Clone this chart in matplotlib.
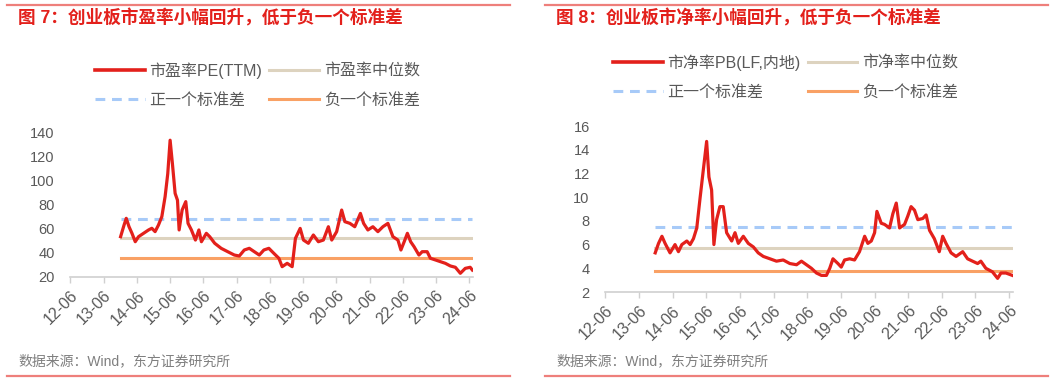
import matplotlib
matplotlib.use('Agg')
import matplotlib.pyplot as plt
from matplotlib.lines import Line2D
import pandas as pd

plt.rcParams['font.family'] = ['Liberation Sans', 'Noto Sans CJK SC']

# 创业板 PE(TTM)
pe_dates = ['2013-12-05', '2014-01-12', '2014-02-05', '2014-03-07', '2014-04-09', '2014-05-15',
            '2014-06-20', '2014-08-14', '2014-10-08', '2014-11-13', '2014-12-19', '2015-01-25',
            '2015-03-03', '2015-04-08', '2015-05-07', '2015-06-02', '2015-06-27', '2015-07-27',
            '2015-08-22', '2015-09-09', '2015-10-12', '2015-11-21', '2015-12-16', '2016-01-22',
            '2016-03-06', '2016-04-13', '2016-05-11', '2016-07-04', '2016-08-10', '2016-10-04',
            '2016-12-14', '2017-02-24', '2017-05-08', '2017-07-01', '2017-08-25', '2017-10-19',
            '2017-12-13', '2018-02-06', '2018-03-28', '2018-05-22', '2018-07-16', '2018-09-09',
            '2018-10-15', '2018-12-09', '2019-02-02', '2019-03-10', '2019-05-01', '2019-06-06',
            '2019-07-30', '2019-09-23', '2019-11-17', '2020-01-11', '2020-03-06', '2020-04-12',
            '2020-06-05', '2020-07-30', '2020-09-03', '2020-10-28', '2020-12-21', '2021-02-21',
            '2021-03-28', '2021-05-14', '2021-07-08', '2021-09-01', '2021-10-26', '2021-12-20',
            '2022-02-13', '2022-04-09', '2022-05-12', '2022-06-17', '2022-07-22', '2022-08-27',
            '2022-10-03', '2022-11-26', '2023-01-01', '2023-02-24', '2023-04-01', '2023-05-26',
            '2023-07-19', '2023-09-12', '2023-11-06', '2023-12-31', '2024-02-24', '2024-04-18',
            '2024-06-11', '2024-07-05']
pe_values = [53.6, 63.3, 68.9, 62.0, 56.4, 49.4,
             53.6, 56.4, 59.2, 60.6, 57.8, 63.3,
             70.3, 87.0, 106.0, 134.0, 114.7, 89.7,
             84.0, 59.2, 75.8, 82.8, 64.7, 59.2,
             50.8, 59.2, 49.4, 56.4, 53.6, 48.1,
             43.9, 41.1, 38.3, 37.5, 42.5, 43.9,
             41.1, 38.3, 42.5, 43.9, 39.7, 35.6,
             28.6, 31.4, 28.6, 52.2, 60.5, 50.8,
             48.1, 55.0, 49.4, 50.8, 61.9, 50.8,
             57.8, 75.8, 66.1, 64.7, 61.9, 73.0,
             64.7, 59.2, 61.9, 57.8, 61.9, 64.7,
             53.6, 50.8, 42.5, 49.4, 56.4, 49.4,
             45.3, 38.3, 41.1, 41.1, 35.6, 34.2,
             32.8, 31.4, 29.2, 28.1, 23.1, 27.2,
             28.1, 25.8]
pe_median = 52.2
pe_upper = 68.0
pe_lower = 35.6

# 创业板 PB(LF)
pb_dates = ['2013-11-24', '2013-12-30', '2014-02-05', '2014-03-11', '2014-05-04', '2014-06-27',
            '2014-08-03', '2014-09-09', '2014-11-02', '2014-12-08', '2015-01-13', '2015-02-18',
            '2015-03-24', '2015-04-30', '2015-06-05', '2015-06-30', '2015-07-29', '2015-08-23',
            '2015-09-21', '2015-10-27', '2015-12-02', '2016-01-08', '2016-03-03', '2016-04-08',
            '2016-05-14', '2016-07-07', '2016-08-30', '2016-10-24', '2016-12-16', '2017-02-09',
            '2017-04-22', '2017-07-02', '2017-09-13', '2017-11-24', '2018-02-05', '2018-03-30',
            '2018-05-23', '2018-07-16', '2018-09-09', '2018-11-02', '2018-12-26', '2019-01-31',
            '2019-03-07', '2019-04-30', '2019-06-05', '2019-07-11', '2019-09-04', '2019-10-27',
            '2019-12-20', '2020-02-14', '2020-03-20', '2020-04-26', '2020-06-01', '2020-06-26',
            '2020-08-12', '2020-09-17', '2020-11-10', '2020-12-16', '2021-01-22', '2021-02-27',
            '2021-04-22', '2021-05-27', '2021-07-02', '2021-08-08', '2021-09-13', '2021-11-06',
            '2021-12-12', '2022-01-18', '2022-03-11', '2022-05-04', '2022-06-10', '2022-07-16',
            '2022-09-09', '2022-11-02', '2023-01-13', '2023-03-07', '2023-04-30', '2023-06-24',
            '2023-07-29', '2023-09-21', '2023-12-02', '2024-01-27', '2024-03-03', '2024-04-26',
            '2024-07-05']
pb_values = [5.3, 6.1, 6.7, 6.1, 5.3, 6.0,
             5.4, 6.0, 6.3, 6.0, 6.5, 7.4,
             9.8, 12.3, 14.7, 11.7, 10.6, 6.0,
             8.1, 9.2, 9.2, 7.0, 6.3, 7.0,
             6.1, 6.7, 6.1, 5.8, 5.3, 5.0,
             4.8, 4.6, 4.7, 4.4, 4.3, 4.6,
             4.3, 4.0, 3.6, 3.4, 3.4, 4.0,
             4.8, 4.4, 4.1, 4.7, 4.8, 4.7,
             5.4, 6.7, 6.1, 6.3, 7.0, 8.8,
             7.8, 7.7, 7.4, 8.6, 9.5, 7.4,
             7.7, 8.4, 9.2, 8.9, 8.1, 8.2,
             8.5, 7.2, 6.5, 5.4, 6.7, 6.1,
             5.3, 5.0, 5.4, 4.8, 4.6, 4.4,
             4.6, 4.0, 3.7, 3.15, 3.6, 3.6,
             3.4]
pb_median = 5.7
pb_upper = 7.45
pb_lower = 3.8

tick_dates = ['2012-06-01', '2013-06-01', '2014-06-01', '2015-06-01', '2016-06-01', '2017-06-01',
              '2018-06-01', '2019-06-01', '2020-06-01', '2021-06-01', '2022-06-01', '2023-06-01',
              '2024-06-01']
tick_labels = ['12-06', '13-06', '14-06', '15-06', '16-06', '17-06', '18-06', '19-06',
               '20-06', '21-06', '22-06', '23-06', '24-06']

W, H = 1061, 382
RED = '#E3201B'
GRAY = '#595959'

fig = plt.figure(figsize=(W / 100, H / 100), dpi=100)


def px(x, y):
    return x / W, 1 - y / H


def panel(rect, dates, values, med, up, low, labels, ylim, yticks,
          title, title_x, frame, legend_xy, source_x):
    l, t, r, b = rect
    ax = fig.add_axes([l / W, 1 - b / H, (r - l) / W, (b - t) / H])
    d = pd.to_datetime(dates)
    span = [d[0], d[-1]]
    ax.plot(d, values, color=RED, lw=2.3, zorder=5, solid_joinstyle='round')
    h_med, = ax.plot(span, [med, med], color='#DDD3BF', lw=2.2, zorder=3)
    h_up, = ax.plot(span, [up, up], color='#A7CAF8', lw=2.2, ls=(0, (3.2, 2.2)), zorder=3)
    h_low, = ax.plot(span, [low, low], color='#F9A165', lw=2.2, zorder=3)
    h_main = Line2D([], [], color=RED, lw=2.6)

    ax.set_xlim(pd.Timestamp('2012-05-28'), pd.Timestamp('2024-07-12'))
    ax.set_ylim(*ylim)
    ax.set_yticks(yticks)
    ax.set_xticks(pd.to_datetime(tick_dates))
    ax.set_xticklabels(tick_labels, rotation=45, ha='right', va='top',
                       rotation_mode='anchor')
    for s in ['top', 'right', 'left']:
        ax.spines[s].set_visible(False)
    ax.spines['bottom'].set_color('#D0D0D0')
    ax.spines['bottom'].set_linewidth(1.2)
    ax.tick_params(axis='y', length=0, pad=11, labelsize=10.5, labelcolor=GRAY)
    ax.tick_params(axis='x', length=4, width=1, color='#D0D0D0', pad=4,
                   labelsize=11.5, labelcolor=GRAY)

    fig.legend([h_main, h_up, h_med, h_low],
               [labels[0], labels[2], labels[1], labels[3]],
               ncol=2, loc='upper left', bbox_to_anchor=px(*legend_xy),
               frameon=False, fontsize=11.5, labelcolor=GRAY,
               handlelength=3.1, handletextpad=0.3, columnspacing=0.45,
               labelspacing=0.9, borderpad=0, borderaxespad=0)

    fig.text(*px(title_x, 18), title, color=RED, fontsize=12.7, fontweight='bold',
             va='center', ha='left')
    fig.text(*px(source_x, 361), '数据来源：Wind，东方证券研究所', color='#7F7F7F',
             fontsize=10, va='center', ha='left')
    x0, x1 = frame
    fig.add_artist(Line2D([x0 / W, x1 / W], [1 - 5 / H] * 2, color='#EE7F7B', lw=1.6))
    fig.add_artist(Line2D([x0 / W, x1 / W], [1 - 376 / H] * 2, color='#EE7F7B', lw=1.6))
    return ax


panel((70, 133, 473, 277), pe_dates, pe_values, pe_median, pe_upper, pe_lower,
      ['市盈率PE(TTM)', '市盈率中位数', '正一个标准差', '负一个标准差'],
      (20, 140), [20, 40, 60, 80, 100, 120, 140],
      '图 7：创业板市盈率小幅回升，低于负一个标准差', 18, (7, 510), (95, 62), 18)

panel((605, 126, 1013, 292), pb_dates, pb_values, pb_median, pb_upper, pb_lower,
      ['市净率PB(LF,内地)', '市净率中位数', '正一个标准差', '负一个标准差'],
      (2, 16), [2, 4, 6, 8, 10, 12, 14, 16],
      '图 8：创业板市净率小幅回升，低于负一个标准差', 556, (545, 1048), (613, 54), 556)

fig.savefig('out.png', dpi=100, facecolor='white')
